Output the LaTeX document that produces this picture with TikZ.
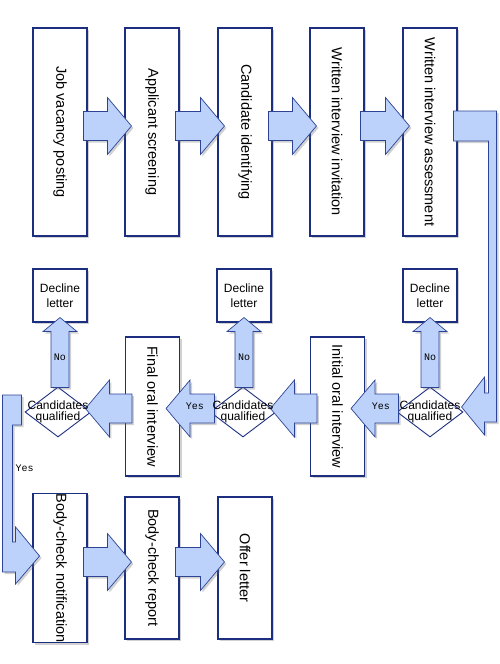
\documentclass[tikz,border=0pt]{standalone}
\usepackage{graphicx}
\usepackage{fontspec}
\setmainfont{Liberation Sans}
\newfontfamily\answerfont{Liberation Mono}
\usetikzlibrary{shapes.geometric, calc, shadows}

\definecolor{boxline}{RGB}{28,46,128}
\definecolor{arrowfill}{RGB}{188,210,250}
\definecolor{arrowline}{RGB}{45,68,150}

% block arrow: start, end, half shaft, half head, head length
\newcommand{\blockarrow}[5]{%
  \coordinate (bs) at #1;
  \coordinate (be) at #2;
  \coordinate (bh) at ($(be)!#5!(bs)$);
  \draw[flowarrow] ($(bs)!#3!90:(be)$) -- ($(bh)!#3!90:(be)$) -- ($(bh)!#4!90:(be)$)
    -- (be) -- ($(bh)!#4!-90:(be)$) -- ($(bh)!#3!-90:(be)$) -- ($(bs)!#3!-90:(be)$) -- cycle;
}

\tikzset{
  softshadow/.style={drop shadow={shadow xshift=2pt, shadow yshift=-2pt, opacity=0.3, fill=black!60}},
  stage/.style={draw=boxline, line width=1.1pt, fill=white, inner sep=0pt, minimum width=54pt,
    font=\fontsize{14.5}{17}\selectfont, softshadow},
  decline/.style={draw=boxline, line width=1.1pt, fill=white, inner sep=0pt, minimum width=54pt,
    minimum height=53pt, align=center, font=\fontsize{12}{15}\selectfont, softshadow},
  check/.style={diamond, draw=boxline, line width=0.9pt, fill=white, inner sep=0pt,
    minimum width=66pt, minimum height=50pt},
  checktext/.style={align=center, inner sep=0pt, font=\fontsize{12}{11.5}\selectfont},
  flowarrow/.style={draw=arrowline, line width=0.7pt, fill=arrowfill, line join=miter, softshadow},
  answer/.style={inner sep=0pt, font=\answerfont\fontsize{10}{11}\selectfont}
}

\begin{document}
\begin{tikzpicture}[x=1pt, y=-1pt]
\useasboundingbox (0,0) rectangle (500,664);

% first row
\node[stage, minimum height=208pt] (jv) at (60,132)  {\rotatebox{-90}{Job vacancy posting}};
\node[stage, minimum height=208pt] (as) at (152,132) {\rotatebox{-90}{Applicant screening}};
\node[stage, minimum height=208pt] (ci) at (245,132) {\rotatebox{-90}{Candidate identifying}};
\node[stage, minimum height=208pt] (wi) at (337,132) {\rotatebox{-90}{Written interview invitation}};
\node[stage, minimum height=208pt] (wa) at (430,132) {\rotatebox{-90}{Written interview assessment}};

% decisions
\node[decline] (d1) at (60,295.5)  {Decline\\letter};
\node[decline] (d2) at (244,295.5) {Decline\\letter};
\node[decline] (d3) at (430,295.5) {Decline\\letter};
\node[check] (q1) at (58,412)  {};
\node[check] (q2) at (243,412) {};
\node[check] (q3) at (430,412) {};
\node[stage, minimum height=139pt] (fo) at (152.5,406.5) {\rotatebox{-90}{Final oral interview}};
\node[stage, minimum height=139pt] (io) at (337.5,406.5) {\rotatebox{-90}{Initial oral interview}};

% last row
\node[stage, minimum height=142pt] (bn) at (60,568)  {\rotatebox{-90}{Body-check notification}};
\node[stage, minimum height=142pt] (br) at (152,568) {\rotatebox{-90}{Body-check report}};
\node[stage, minimum height=142pt] (ol) at (245,568) {\rotatebox{-90}{Offer letter}};

% arrows
\blockarrow{($(jv.east)+(-4,-6)$)}{($(as.west)+(7,-6)$)}{14.5pt}{28.5pt}{24pt}
\blockarrow{($(as.east)+(-4,-6)$)}{($(ci.west)+(7,-6)$)}{14.5pt}{28.5pt}{24pt}
\blockarrow{($(ci.east)+(-4,-6)$)}{($(wi.west)+(7,-6)$)}{14.5pt}{28.5pt}{24pt}
\blockarrow{($(wi.east)+(-4,-6)$)}{($(wa.west)+(7,-6)$)}{14.5pt}{28.5pt}{24pt}

\draw[flowarrow] ($(wa.east)+(-4,-21)$) -- ++(43,0) -- ++(0,311) -- ++(-12,0) -- ++(0,13)
  -- ++(-23,-28) -- ++(23,-30) -- ++(0,16) -- ++(4,0) -- ++(0,-252) -- ++(-35,0) -- cycle;

\blockarrow{($(q3.west)+(2,-3.5)$)}{($(io.east)+(-14,2)$)}{14.5pt}{28.5pt}{24pt}
\blockarrow{($(io.west)+(7,2)$)}{($(q2.east)+(-6,-3.5)$)}{14.5pt}{28.5pt}{24pt}
\blockarrow{($(q2.west)+(5,-3.5)$)}{($(fo.east)+(-14,2)$)}{14.5pt}{28.5pt}{24pt}
\blockarrow{($(fo.west)+(7,2)$)}{($(q1.east)+(-6,-3.5)$)}{14.5pt}{28.5pt}{24pt}

\blockarrow{($(d1.south |- q1.north)+(0,1)$)}{($(d1.south)+(0,-5)$)}{9pt}{17pt}{14pt}
\blockarrow{($(d2.south |- q2.north)+(0,1)$)}{($(d2.south)+(0,-5)$)}{9pt}{17pt}{14pt}
\blockarrow{($(d3.south |- q3.north)+(0,1)$)}{($(d3.south)+(0,-5)$)}{9pt}{17pt}{14pt}

\draw[flowarrow] ($(q1.west)+(-3,-17)$) -- ++(-19,0) -- ++(0,177) -- ++(13,0) -- ++(0,12)
  -- ++(24,-28) -- ++(-24,-29) -- ++(0,15) -- ++(-3,0) -- ++(0,-117) -- ++(9,0) -- cycle;

\blockarrow{($(bn.east)+(-4,-6)$)}{($(br.west)+(7,-6)$)}{14.5pt}{28.5pt}{24pt}
\blockarrow{($(br.east)+(-4,-6)$)}{($(ol.west)+(7,-6)$)}{14.5pt}{28.5pt}{24pt}

% texts on top
\node[checktext] at (q1) {Candidates\\qualified};
\node[checktext] at (q2) {Candidates\\qualified};
\node[checktext] at (q3) {Candidates\\qualified};

\node[answer] at ($(d1.south)!0.5!(d1.south |- q1.north)+(0,2.5)$) {No};
\node[answer] at ($(d2.south)!0.5!(d2.south |- q2.north)+(0,2.5)$) {No};
\node[answer] at ($(d3.south)!0.5!(d3.south |- q3.north)+(0,2.5)$) {No};
\node[answer] at ($(q2.west)!0.5!(fo.east)+(0,-3)$) {Yes};
\node[answer] at ($(q3.west)!0.5!(io.east)+(0,-3)$) {Yes};
\node[answer] at ($(q1.west)+(0,56)$) {Yes};
\end{tikzpicture}
\end{document}
